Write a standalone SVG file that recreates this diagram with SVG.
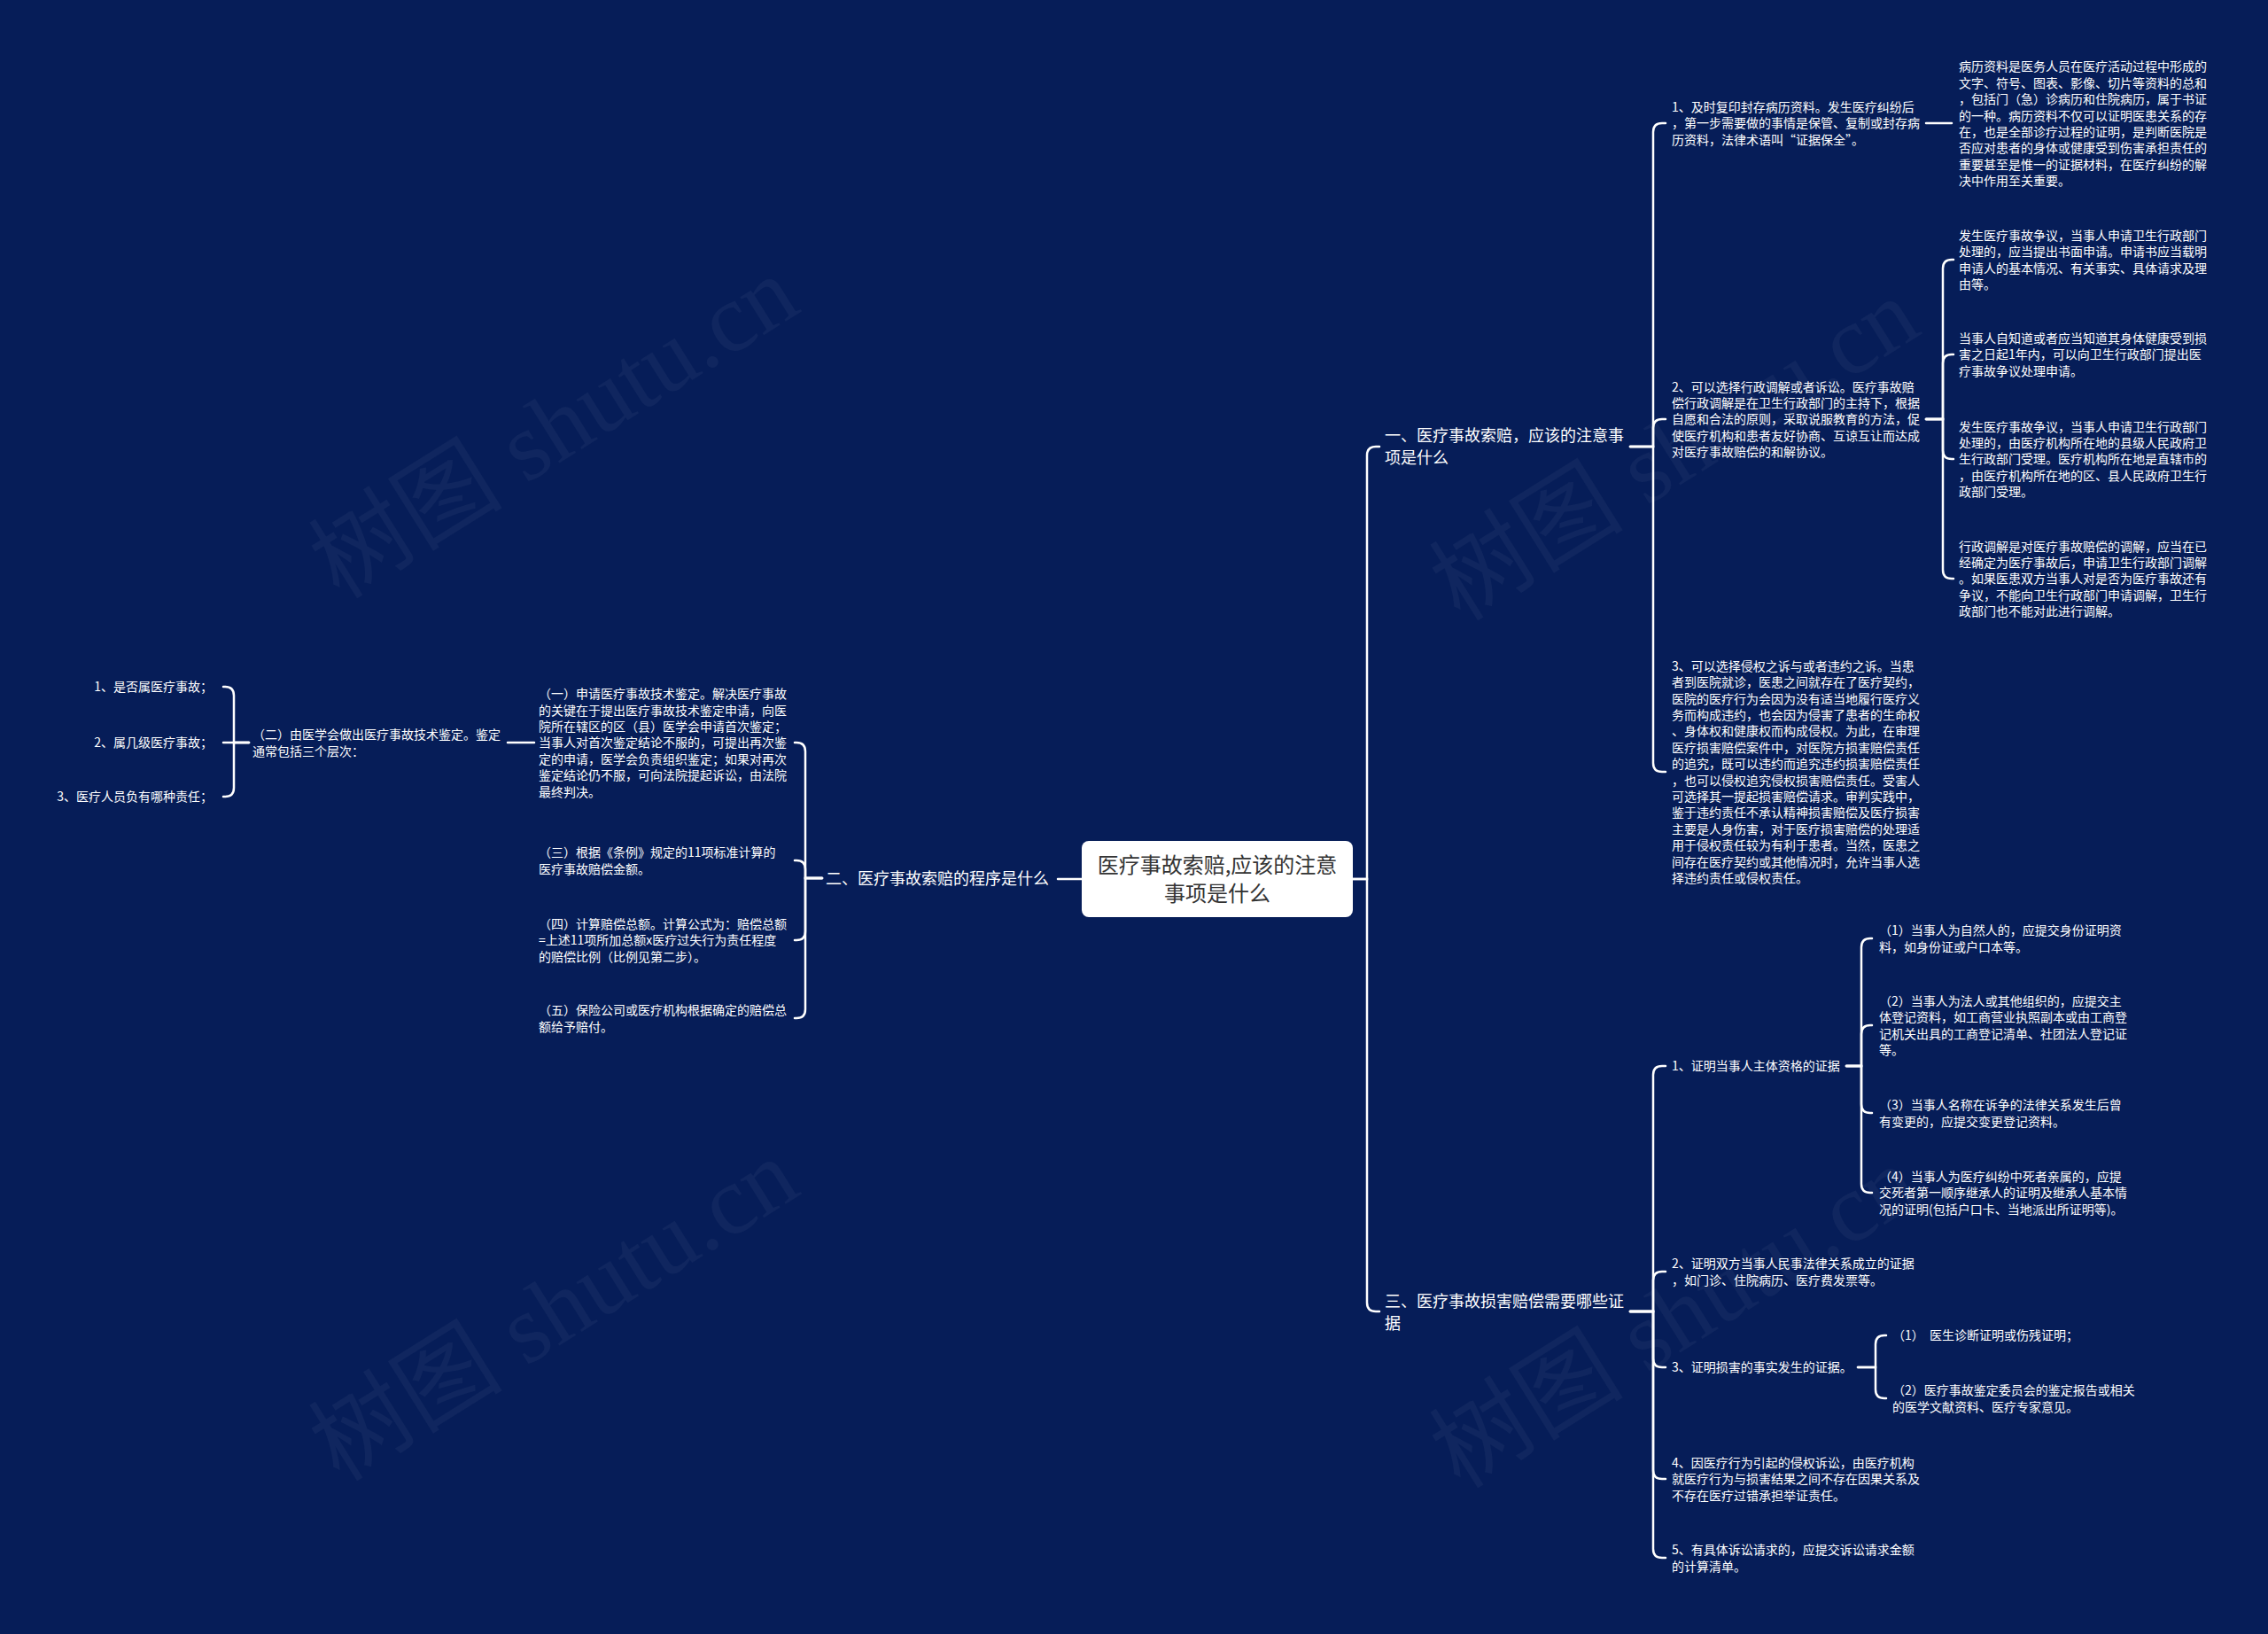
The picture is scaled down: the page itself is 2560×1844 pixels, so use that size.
<svg xmlns="http://www.w3.org/2000/svg" width="2560" height="1844" viewBox="0 0 2560 1844">
<style>
.bg{fill:#061d58}
.wm{font-family:"Liberation Serif","Noto Sans CJK SC",serif;font-size:110px;fill:#ffffff;fill-opacity:0.045}
.t14{font-family:"Noto Sans CJK SC","Noto Sans",sans-serif;font-size:14px;fill:#ffffff}
.t18{font-family:"Noto Sans CJK SC","Noto Sans",sans-serif;font-size:18px;fill:#ffffff}
.root{font-family:"Noto Sans CJK SC","Noto Sans",sans-serif;font-size:24px;fill:#333333}
.conn{fill:none;stroke:#ffffff;stroke-width:2.5;stroke-linecap:round}
</style>
<rect class="bg" x="0" y="0" width="2560" height="1844"/>
<g id="watermarks">
<text class="wm" x="645" y="514" text-anchor="middle" transform="rotate(-32 645 514)">树图 shutu.cn</text>
<text class="wm" x="645" y="1510" text-anchor="middle" transform="rotate(-32 645 1510)">树图 shutu.cn</text>
<text class="wm" x="1910" y="539" text-anchor="middle" transform="rotate(-32 1910 539)">树图 shutu.cn</text>
<text class="wm" x="1910" y="1518" text-anchor="middle" transform="rotate(-32 1910 1518)">树图 shutu.cn</text>
</g>
<g id="connectors">
<path class="conn" d="M1527 992 H1543 V514 Q1543 504 1553 504 H1557"/>
<path class="conn" d="M1527 992 H1543 V1470 Q1543 1480 1553 1480 H1557"/>
<path class="conn" d="M1221 992 H1194"/>
<path class="conn" d="M1840 504 H1866 V149 Q1866 139 1876 139 H1880"/>
<path class="conn" d="M1840 504 H1866 V483 Q1866 473 1876 473 H1880"/>
<path class="conn" d="M1840 504 H1866 V861 Q1866 871 1876 871 H1880"/>
<path class="conn" d="M2174 139 H2203"/>
<path class="conn" d="M2174 473 H2193 V303 Q2193 293 2203 293 H2205"/>
<path class="conn" d="M2174 473 H2193 V410 Q2193 400 2203 400 H2205"/>
<path class="conn" d="M2174 473 H2193 V508 Q2193 518 2203 518 H2205"/>
<path class="conn" d="M2174 473 H2193 V643 Q2193 653 2203 653 H2205"/>
<path class="conn" d="M1840 1480 H1866 V1213 Q1866 1203 1876 1203 H1880"/>
<path class="conn" d="M1840 1480 H1866 V1445 Q1866 1435 1876 1435 H1880"/>
<path class="conn" d="M1840 1480 H1866 V1533 Q1866 1543 1876 1543 H1880"/>
<path class="conn" d="M1840 1480 H1866 V1659 Q1866 1669 1876 1669 H1880"/>
<path class="conn" d="M1840 1480 H1866 V1748 Q1866 1758 1876 1758 H1880"/>
<path class="conn" d="M2084 1203 H2101 V1069 Q2101 1059 2111 1059 H2113"/>
<path class="conn" d="M2084 1203 H2101 V1167 Q2101 1157 2111 1157 H2113"/>
<path class="conn" d="M2084 1203 H2101 V1246 Q2101 1256 2111 1256 H2113"/>
<path class="conn" d="M2084 1203 H2101 V1336 Q2101 1346 2111 1346 H2113"/>
<path class="conn" d="M2097 1543 H2117 V1517 Q2117 1507 2127 1507 H2129"/>
<path class="conn" d="M2097 1543 H2117 V1568 Q2117 1578 2127 1578 H2129"/>
<path class="conn" d="M928 991 H909 V848 Q909 838 899 838 H897"/>
<path class="conn" d="M928 991 H909 V981 Q909 971 899 971 H897"/>
<path class="conn" d="M928 991 H909 V1051 Q909 1061 899 1061 H897"/>
<path class="conn" d="M928 991 H909 V1139 Q909 1149 899 1149 H897"/>
<path class="conn" d="M603 838 H573"/>
<path class="conn" d="M281 838 H264 V785 Q264 775 254 775 H252"/>
<path class="conn" d="M281 838 H252"/>
<path class="conn" d="M281 838 H264 V889 Q264 899 254 899 H252"/>
</g>
<g id="root">
<rect x="1221" y="949" width="306" height="86" rx="8" fill="#ffffff"/>
<text class="root" text-anchor="middle"><tspan x="1374" y="985">医疗事故索赔,应该的注意</tspan><tspan x="1374" y="1017">事项是什么</tspan></text>
</g>
<g id="n1">
<text class="t18"><tspan x="1563" y="497.8">一、医疗事故索赔，应该的注意事</tspan><tspan x="1563" y="522.8">项是什么</tspan></text>
</g>
<g id="n2">
<text class="t18"><tspan x="932" y="997.8">二、医疗事故索赔的程序是什么</tspan></text>
</g>
<g id="n3">
<text class="t18"><tspan x="1563" y="1474.8">三、医疗事故损害赔偿需要哪些证</tspan><tspan x="1563" y="1499.8">据</tspan></text>
</g>
<g id="n1-1">
<text class="t14"><tspan x="1887" y="126">1、及时复印封存病历资料。发生医疗纠纷后</tspan><tspan x="1887" dy="18.4">，第一步需要做的事情是保管、复制或封存病</tspan><tspan x="1887" dy="18.4">历资料，法律术语叫“证据保全”。</tspan></text>
</g>
<g id="n1-1-1">
<text class="t14"><tspan x="2211" y="80.4">病历资料是医务人员在医疗活动过程中形成的</tspan><tspan x="2211" dy="18.4">文字、符号、图表、影像、切片等资料的总和</tspan><tspan x="2211" dy="18.4">，包括门（急）诊病历和住院病历，属于书证</tspan><tspan x="2211" dy="18.4">的一种。病历资料不仅可以证明医患关系的存</tspan><tspan x="2211" dy="18.4">在，也是全部诊疗过程的证明，是判断医院是</tspan><tspan x="2211" dy="18.4">否应对患者的身体或健康受到伤害承担责任的</tspan><tspan x="2211" dy="18.4">重要甚至是惟一的证据材料，在医疗纠纷的解</tspan><tspan x="2211" dy="18.4">决中作用至关重要。</tspan></text>
</g>
<g id="n1-2">
<text class="t14"><tspan x="1887" y="441.5">2、可以选择行政调解或者诉讼。医疗事故赔</tspan><tspan x="1887" dy="18.4">偿行政调解是在卫生行政部门的主持下，根据</tspan><tspan x="1887" dy="18.4">自愿和合法的原则，采取说服教育的方法，促</tspan><tspan x="1887" dy="18.4">使医疗机构和患者友好协商、互谅互让而达成</tspan><tspan x="1887" dy="18.4">对医疗事故赔偿的和解协议。</tspan></text>
</g>
<g id="n1-2-1">
<text class="t14"><tspan x="2211" y="270.7">发生医疗事故争议，当事人申请卫生行政部门</tspan><tspan x="2211" dy="18.4">处理的，应当提出书面申请。申请书应当载明</tspan><tspan x="2211" dy="18.4">申请人的基本情况、有关事实、具体请求及理</tspan><tspan x="2211" dy="18.4">由等。</tspan></text>
</g>
<g id="n1-2-2">
<text class="t14"><tspan x="2211" y="386.9">当事人自知道或者应当知道其身体健康受到损</tspan><tspan x="2211" dy="18.4">害之日起1年内，可以向卫生行政部门提出医</tspan><tspan x="2211" dy="18.4">疗事故争议处理申请。</tspan></text>
</g>
<g id="n1-2-3">
<text class="t14"><tspan x="2211" y="486.5">发生医疗事故争议，当事人申请卫生行政部门</tspan><tspan x="2211" dy="18.4">处理的，由医疗机构所在地的县级人民政府卫</tspan><tspan x="2211" dy="18.4">生行政部门受理。医疗机构所在地是直辖市的</tspan><tspan x="2211" dy="18.4">，由医疗机构所在地的区、县人民政府卫生行</tspan><tspan x="2211" dy="18.4">政部门受理。</tspan></text>
</g>
<g id="n1-2-4">
<text class="t14"><tspan x="2211" y="621.5">行政调解是对医疗事故赔偿的调解，应当在已</tspan><tspan x="2211" dy="18.4">经确定为医疗事故后，申请卫生行政部门调解</tspan><tspan x="2211" dy="18.4">。如果医患双方当事人对是否为医疗事故还有</tspan><tspan x="2211" dy="18.4">争议，不能向卫生行政部门申请调解，卫生行</tspan><tspan x="2211" dy="18.4">政部门也不能对此进行调解。</tspan></text>
</g>
<g id="n1-3">
<text class="t14"><tspan x="1887" y="756.7">3、可以选择侵权之诉与或者违约之诉。当患</tspan><tspan x="1887" dy="18.4">者到医院就诊，医患之间就存在了医疗契约，</tspan><tspan x="1887" dy="18.4">医院的医疗行为会因为没有适当地履行医疗义</tspan><tspan x="1887" dy="18.4">务而构成违约，也会因为侵害了患者的生命权</tspan><tspan x="1887" dy="18.4">、身体权和健康权而构成侵权。为此，在审理</tspan><tspan x="1887" dy="18.4">医疗损害赔偿案件中，对医院方损害赔偿责任</tspan><tspan x="1887" dy="18.4">的追究，既可以违约而追究违约损害赔偿责任</tspan><tspan x="1887" dy="18.4">，也可以侵权追究侵权损害赔偿责任。受害人</tspan><tspan x="1887" dy="18.4">可选择其一提起损害赔偿请求。审判实践中，</tspan><tspan x="1887" dy="18.4">鉴于违约责任不承认精神损害赔偿及医疗损害</tspan><tspan x="1887" dy="18.4">主要是人身伤害，对于医疗损害赔偿的处理适</tspan><tspan x="1887" dy="18.4">用于侵权责任较为有利于患者。当然，医患之</tspan><tspan x="1887" dy="18.4">间存在医疗契约或其他情况时，允许当事人选</tspan><tspan x="1887" dy="18.4">择违约责任或侵权责任。</tspan></text>
</g>
<g id="n3-1">
<text class="t14"><tspan x="1887" y="1208.3">1、证明当事人主体资格的证据</tspan></text>
</g>
<g id="n3-1-1">
<text class="t14"><tspan x="2121" y="1055.1">（1）当事人为自然人的，应提交身份证明资</tspan><tspan x="2121" dy="18.4">料，如身份证或户口本等。</tspan></text>
</g>
<g id="n3-1-2">
<text class="t14"><tspan x="2121" y="1134.7">（2）当事人为法人或其他组织的，应提交主</tspan><tspan x="2121" dy="18.4">体登记资料，如工商营业执照副本或由工商登</tspan><tspan x="2121" dy="18.4">记机关出具的工商登记清单、社团法人登记证</tspan><tspan x="2121" dy="18.4">等。</tspan></text>
</g>
<g id="n3-1-3">
<text class="t14"><tspan x="2121" y="1252.1">（3）当事人名称在诉争的法律关系发生后曾</tspan><tspan x="2121" dy="18.4">有变更的，应提交变更登记资料。</tspan></text>
</g>
<g id="n3-1-4">
<text class="t14"><tspan x="2121" y="1332.9">（4）当事人为医疗纠纷中死者亲属的，应提</tspan><tspan x="2121" dy="18.4">交死者第一顺序继承人的证明及继承人基本情</tspan><tspan x="2121" dy="18.4">况的证明(包括户口卡、当地派出所证明等)。</tspan></text>
</g>
<g id="n3-2">
<text class="t14"><tspan x="1887" y="1431.1">2、证明双方当事人民事法律关系成立的证据</tspan><tspan x="1887" dy="18.4">，如门诊、住院病历、医疗费发票等。</tspan></text>
</g>
<g id="n3-3">
<text class="t14"><tspan x="1887" y="1548.3">3、证明损害的事实发生的证据。</tspan></text>
</g>
<g id="n3-3-1">
<text class="t14"><tspan x="2136" y="1512.3" xml:space="preserve">（1）  医生诊断证明或伤残证明；</tspan></text>
</g>
<g id="n3-3-2">
<text class="t14"><tspan x="2136" y="1574.1">（2）医疗事故鉴定委员会的鉴定报告或相关</tspan><tspan x="2136" dy="18.4">的医学文献资料、医疗专家意见。</tspan></text>
</g>
<g id="n3-4">
<text class="t14"><tspan x="1887" y="1655.9">4、因医疗行为引起的侵权诉讼，由医疗机构</tspan><tspan x="1887" dy="18.4">就医疗行为与损害结果之间不存在因果关系及</tspan><tspan x="1887" dy="18.4">不存在医疗过错承担举证责任。</tspan></text>
</g>
<g id="n3-5">
<text class="t14"><tspan x="1887" y="1754.1">5、有具体诉讼请求的，应提交诉讼请求金额</tspan><tspan x="1887" dy="18.4">的计算清单。</tspan></text>
</g>
<g id="n2-1">
<text class="t14"><tspan x="608" y="788.1">（一）申请医疗事故技术鉴定。解决医疗事故</tspan><tspan x="608" dy="18.4">的关键在于提出医疗事故技术鉴定申请，向医</tspan><tspan x="608" dy="18.4">院所在辖区的区（县）医学会申请首次鉴定；</tspan><tspan x="608" dy="18.4">当事人对首次鉴定结论不服的，可提出再次鉴</tspan><tspan x="608" dy="18.4">定的申请，医学会负责组织鉴定；如果对再次</tspan><tspan x="608" dy="18.4">鉴定结论仍不服，可向法院提起诉讼，由法院</tspan><tspan x="608" dy="18.4">最终判决。</tspan></text>
</g>
<g id="n2-1-1">
<text class="t14"><tspan x="285" y="834.1">（二）由医学会做出医疗事故技术鉴定。鉴定</tspan><tspan x="285" dy="18.4">通常包括三个层次：</tspan></text>
</g>
<g id="n2-1-1-1">
<text class="t14" text-anchor="end" x="240" y="780.3">1、是否属医疗事故；</text>
</g>
<g id="n2-1-1-2">
<text class="t14" text-anchor="end" x="240" y="843.3">2、属几级医疗事故；</text>
</g>
<g id="n2-1-1-3">
<text class="t14" text-anchor="end" x="240" y="904.3">3、医疗人员负有哪种责任；</text>
</g>
<g id="n2-2">
<text class="t14"><tspan x="608" y="967.1">（三）根据《条例》规定的11项标准计算的</tspan><tspan x="608" dy="18.4">医疗事故赔偿金额。</tspan></text>
</g>
<g id="n2-3">
<text class="t14"><tspan x="608" y="1047.9">（四）计算赔偿总额。计算公式为：赔偿总额</tspan><tspan x="608" dy="18.4">=上述11项所加总额x医疗过失行为责任程度</tspan><tspan x="608" dy="18.4">的赔偿比例（比例见第二步）。</tspan></text>
</g>
<g id="n2-4">
<text class="t14"><tspan x="608" y="1145.1">（五）保险公司或医疗机构根据确定的赔偿总</tspan><tspan x="608" dy="18.4">额给予赔付。</tspan></text>
</g>
</svg>
